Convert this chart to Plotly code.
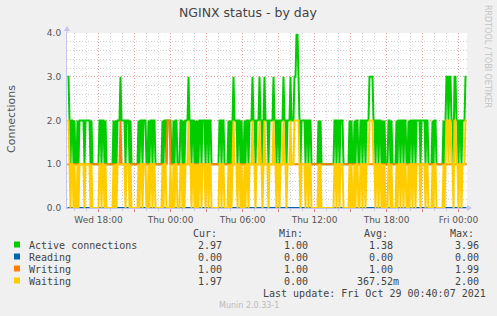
import plotly.graph_objects as go
import pandas as pd

# ---------------- data (5-minute samples, one character per sample) ----------------
start_time = "2021-10-27 15:25:00"
step_minutes = 5

active_rows = [
    "3321221211212222212222212111111122122121",
    "1111112121222322221222121111111212212221",
    "1212212211111112122122221121221112212122",
    "2322122121212212221221221111111122122111",
    "1212123222122121121221222322122232212322",
    "2122223221221222322122232223344321222212",
    "2122111111121211111111111112212212221111",
    "1121211212211221221222333322122122121211",
    "1221211112122122122112122122122221222212",
    "2111121221111111212332332213322122122233",
]
reading_rows = [
    "0000000000000000000000000000000000000000",
    "0000000000000000000000000000000000000000",
    "0000000000000000000000000000000000000000",
    "0000000000000000000000000000000000000000",
    "0000000000000000000000000000000000000000",
    "0000000000000000000000000000000000000000",
    "0000000000000000000000000000000000000000",
    "0000000000000000000000000000000000000000",
    "0000000000000000000000000000000000000000",
    "0000000000000000000000000000000000000000",
]
writing_rows = [
    "1111111111111111111111111111111111111111",
    "1111111111111211111111111111111111111111",
    "1111111111111111111122211111111111111111",
    "1111111111111111111111111111111111111111",
    "1111111111111111111111111111111111111111",
    "1111111111111111111111111111111111111111",
    "1111111111111111111111111111111111111111",
    "1111111111111111111111111111111111111111",
    "1111111111111111111111111111111111111111",
    "1111111111111111111111111111111111111111",
]
waiting_rows = [
    "2210110100101111101111101000000011011010",
    "0000001010111111110111010000000101101110",
    "0101101100000001011000010010110001101011",
    "1211011010101101110110110000000011011000",
    "0101012111011010010110111211011121101211",
    "1011112110110111211011121112222210111101",
    "1011000000010100000000000001101101110000",
    "0010100101100110110111222211011011010100",
    "0110100001011011011001011011011110111101",
    "1000010110000000101221221102211011011122",
]
char_value = {"0": 0.0, "1": 1.0, "2": 2.0, "3": 3.0, "4": 3.96}

series_names = ["Active connections", "Reading", "Writing", "Waiting"]
series_colors = ["#00CC00", "#0066B3", "#FF8000", "#FFCC00"]
cur_vals = ["2.97", "0.00", "1.00", "1.97"]
min_vals = ["1.00", "0.00", "1.00", "0.00"]
avg_vals = ["1.38", "0.00", "1.00", "367.52m"]
max_vals = ["3.96", "0.00", "1.99", "2.00"]

x_tick_times = ["2021-10-27 18:00", "2021-10-27 21:00", "2021-10-28 00:00", "2021-10-28 03:00",
                "2021-10-28 06:00", "2021-10-28 09:00", "2021-10-28 12:00", "2021-10-28 15:00",
                "2021-10-28 18:00", "2021-10-28 21:00", "2021-10-29 00:00"]
x_tick_text = ["Wed 18:00", "", "Thu 00:00", "", "Thu 06:00", "", "Thu 12:00", "",
               "Thu 18:00", "", "Fri 00:00"]
y_tick_vals = [0, 1, 2, 3, 4]
y_tick_text = ["0.0", "1.0", "2.0", "3.0", "4.0"]

title_text = "NGINX status - by day"
y_title = "Connections"
last_update = "Last update: Fri Oct 29 00:40:07 2021"
munin_version = "Munin 2.0.33-1"
rrd_credit = "RRDTOOL / TOBI OETIKER"


def decode(rows):
    return [char_value[c] for c in "".join(rows)]


series_values = [decode(active_rows), decode(reading_rows), decode(writing_rows), decode(waiting_rows)]
n = len(series_values[0])
times = pd.date_range(start=start_time, periods=n, freq=f"{step_minutes}min")
half = pd.Timedelta(minutes=step_minutes / 2)
x_range = [times[0] - half, times[-1] + half]

# ---------------- geometry helpers (pixel -> paper) ----------------
W, H = 497, 316
L, R, T, B = 67, 467, 33, 208


def px(x):
    return (x - L) / (R - L)


def py(y):
    return (B - y) / (B - T)


fig = go.Figure()
line_widths = [2, 2, 2, 2]
for name, vals, col, lw in zip(series_names, series_values, series_colors, line_widths):
    fig.add_trace(go.Scatter(x=times, y=vals, mode="lines", name=name,
                             line=dict(color=col, width=lw), showlegend=False,
                             hoverinfo="skip"))

mgrid = "#E8A0A0"
grid = "#D2D2D2"
axis_col = "#C4C4EE"
tick_font = dict(family="DejaVu Sans", size=9, color="#555555")

fig.update_layout(
    width=W, height=H,
    margin=dict(l=L, r=W - R, t=T, b=H - B, pad=0),
    paper_bgcolor="#F0F0F0", plot_bgcolor="#FFFFFF",
    xaxis=dict(
        type="date", range=x_range, tickmode="array", tickvals=x_tick_times, ticktext=x_tick_text,
        showgrid=True, gridcolor=mgrid, griddash="1px,2px", gridwidth=1,
        ticks="outside", ticklen=3, tickcolor="#E08080", tickfont=tick_font,
        showline=True, linecolor=axis_col, linewidth=1, zeroline=False,
        minor=dict(tickmode="linear", tick0="2021-10-27 16:00", dtick=3600000,
                   showgrid=True, gridcolor=grid, griddash="1px,2px", gridwidth=1,
                   ticks="outside", ticklen=2, tickcolor="#CCCCCC"),
        fixedrange=True,
    ),
    yaxis=dict(
        range=[0, 4], tickmode="array", tickvals=y_tick_vals, ticktext=y_tick_text,
        showgrid=True, gridcolor=mgrid, griddash="1px,2px", gridwidth=1,
        ticks="outside", ticklen=3, tickcolor="rgba(0,0,0,0)", tickfont=tick_font,
        showline=True, linecolor=axis_col, linewidth=1, zeroline=False,
        minor=dict(tickmode="linear", tick0=0, dtick=0.2, showgrid=True,
                   gridcolor=grid, griddash="1px,2px", gridwidth=1),
        fixedrange=True,
    ),
)

ann = []
shapes = []
# title, axis title, credit
ann.append(dict(text=title_text, x=px(248), y=py(13), xref="paper", yref="paper",
                showarrow=False, xanchor="center", yanchor="middle",
                font=dict(family="DejaVu Sans", size=12.5, color="#444444")))
ann.append(dict(text=y_title, x=px(11), y=py(119), xref="paper", yref="paper",
                showarrow=False, xanchor="center", yanchor="middle", textangle=-90,
                font=dict(family="DejaVu Sans", size=11, color="#555555")))
ann.append(dict(text=rrd_credit, x=px(488), y=py(56), xref="paper", yref="paper",
                showarrow=False, xanchor="center", yanchor="middle", textangle=90,
                font=dict(family="DejaVu Sans", size=8, color="#C4C4C4")))

# axis arrows
shapes.append(dict(type="line", xref="paper", yref="paper", x0=px(67), x1=px(67), y0=py(33), y1=py(29),
                   line=dict(color=axis_col, width=1)))
shapes.append(dict(type="path", xref="paper", yref="paper",
                   path=f"M {px(64)} {py(31)} L {px(70)} {py(31)} L {px(67)} {py(26)} Z",
                   fillcolor=axis_col, line=dict(width=0)))
shapes.append(dict(type="path", xref="paper", yref="paper",
                   path=f"M {px(467)} {py(205)} L {px(467)} {py(211)} L {px(472)} {py(208)} Z",
                   fillcolor=axis_col, line=dict(width=0)))

mono = "DejaVu Sans Mono"
txt_col = "#444444"
NB = "\u00a0"


def fmt(v):
    if v[-1].isalpha():
        s = v[:-1].rjust(6) + v[-1]
    else:
        s = v.rjust(6) + " "
    return s.replace(" ", NB)


headers = ["Cur:", "Min:", "Avg:", "Max:"]
header_x = [191, 277, 362, 448]
field_x = [184, 270, 355, 441]
for hx, h in zip(header_x, headers):
    ann.append(dict(text=h, x=px(hx), y=py(233), xref="paper", yref="paper", showarrow=False,
                    xanchor="left", yanchor="middle", font=dict(family=mono, size=10, color=txt_col)))

row_y = [245, 257, 269, 281]
columns = [cur_vals, min_vals, avg_vals, max_vals]
for i, (name, col) in enumerate(zip(series_names, series_colors)):
    yy = row_y[i]
    shapes.append(dict(type="rect", xref="paper", yref="paper", x0=px(14), x1=px(20),
                       y0=py(yy - 3.5), y1=py(yy + 2.5), fillcolor=col, line=dict(width=0)))
    ann.append(dict(text=name, x=px(27), y=py(yy), xref="paper", yref="paper", showarrow=False,
                    xanchor="left", yanchor="middle", font=dict(family=mono, size=10, color=txt_col)))
    for fx, vals in zip(field_x, columns):
        ann.append(dict(text=fmt(vals[i]), x=px(fx), y=py(yy), xref="paper", yref="paper",
                        showarrow=False, xanchor="left", yanchor="middle",
                        font=dict(family=mono, size=10, color=txt_col)))

ann.append(dict(text=last_update.replace(" ", NB), x=px(261), y=py(293), xref="paper", yref="paper",
                showarrow=False, xanchor="left", yanchor="middle",
                font=dict(family=mono, size=10, color=txt_col)))
ann.append(dict(text=munin_version, x=px(249), y=py(305), xref="paper", yref="paper",
                showarrow=False, xanchor="center", yanchor="middle",
                font=dict(family="DejaVu Sans", size=8, color="#BBBBBB")))

fig.update_layout(annotations=ann, shapes=shapes)
fig.write_html("out.html", config={"displayModeBar": False})
